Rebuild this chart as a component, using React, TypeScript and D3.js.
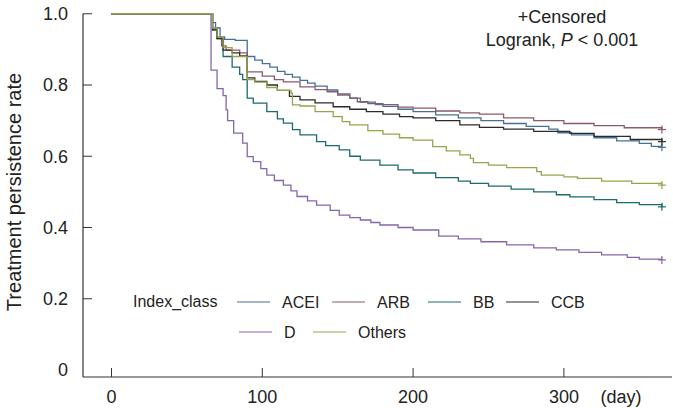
import React from "react";
import * as d3 from "d3";

type Pt = [number, number];

const seriesNames = ["ACEI", "ARB", "BB", "CCB", "D", "Others"];
const seriesColors = ["#44719a", "#8c5a6a", "#1d6a6e", "#2b2b2b", "#8466ad", "#9aa34a"];

const acei: Pt[] = [[0,1],[67,0.975],[69,0.96],[72,0.935],[75,0.928],[82,0.925],[90,0.88],[95,0.87],[100,0.86],[105,0.85],[110,0.838],[115,0.83],[120,0.822],[125,0.813],[130,0.805],[135,0.797],[143,0.786],[150,0.775],[158,0.763],[163,0.753],[170,0.748],[180,0.74],[190,0.732],[200,0.725],[215,0.716],[230,0.708],[245,0.7],[260,0.692],[275,0.684],[290,0.676],[296,0.666],[305,0.66],[320,0.652],[335,0.643],[350,0.636],[358,0.628],[365,0.625]];
const arb: Pt[] = [[0,1],[67,0.96],[70,0.935],[73,0.91],[76,0.898],[85,0.89],[90,0.837],[100,0.825],[108,0.815],[114,0.809],[125,0.795],[135,0.787],[143,0.781],[150,0.772],[158,0.763],[165,0.752],[175,0.745],[190,0.738],[200,0.735],[215,0.727],[231,0.722],[244,0.718],[260,0.708],[280,0.7],[300,0.692],[320,0.686],[340,0.68],[365,0.675]];
const bb: Pt[] = [[0,1],[67,0.955],[70,0.93],[74,0.88],[80,0.85],[85,0.83],[87,0.815],[90,0.763],[94,0.749],[103,0.725],[110,0.705],[114,0.693],[120,0.675],[125,0.66],[136,0.641],[142,0.63],[151,0.618],[158,0.6],[165,0.589],[178,0.575],[190,0.562],[200,0.553],[215,0.54],[230,0.53],[238,0.524],[250,0.516],[265,0.508],[280,0.5],[295,0.492],[304,0.486],[320,0.478],[335,0.47],[350,0.464],[365,0.458]];
const ccb: Pt[] = [[0,1],[67,0.955],[70,0.93],[74,0.898],[80,0.89],[85,0.882],[90,0.82],[95,0.81],[103,0.8],[110,0.785],[118,0.768],[125,0.758],[135,0.75],[147,0.739],[158,0.732],[169,0.725],[180,0.718],[191,0.711],[200,0.708],[215,0.7],[231,0.688],[244,0.681],[260,0.676],[280,0.67],[304,0.664],[320,0.656],[344,0.647],[365,0.641]];
const dd: Pt[] = [[0,1],[66,0.842],[70,0.79],[74,0.77],[76,0.73],[77,0.7],[81,0.665],[87,0.637],[90,0.599],[94,0.585],[99,0.565],[103,0.547],[108,0.532],[114,0.519],[119,0.503],[123,0.487],[130,0.475],[136,0.463],[145,0.448],[151,0.435],[158,0.428],[165,0.421],[172,0.414],[178,0.407],[190,0.4],[200,0.393],[217,0.376],[230,0.368],[245,0.36],[262,0.351],[280,0.343],[295,0.337],[310,0.33],[325,0.323],[342,0.316],[350,0.311],[365,0.309]];
const others: Pt[] = [[0,1],[67,0.96],[70,0.935],[74,0.905],[80,0.88],[90,0.815],[95,0.808],[103,0.793],[110,0.785],[119,0.777],[120,0.744],[125,0.741],[135,0.725],[147,0.711],[153,0.697],[158,0.688],[170,0.672],[180,0.662],[191,0.652],[200,0.645],[213,0.627],[222,0.615],[231,0.604],[238,0.594],[240,0.582],[250,0.575],[262,0.568],[282,0.557],[285,0.547],[300,0.542],[309,0.538],[325,0.53],[345,0.524],[365,0.519]];

const seriesData: Pt[][] = [acei, arb, bb, ccb, dd, others];

const xTicks = [0, 100, 200, 300];
const yTicks = [0, 0.2, 0.4, 0.6, 0.8, 1.0];
const yTickLabels = ["0", "0.2", "0.4", "0.6", "0.8", "1.0"];

const FONT = "'Liberation Sans', Arial, sans-serif";

// legend layout (positions only)
const legendPos: { x: number; y: number }[] = [
  { x: 237, y: 302 },
  { x: 332, y: 302 },
  { x: 428, y: 302 },
  { x: 506, y: 302 },
  { x: 239, y: 332 },
  { x: 313, y: 332 },
];

export default function App() {
  const W = 673, H = 408;
  const x = d3.scaleLinear().domain([0, 100]).range([111.5, 262.3]);
  const y = d3.scaleLinear().domain([0, 1]).range([370, 13.75]);
  const line = d3
    .line<Pt>()
    .x((d) => x(d[0]))
    .y((d) => y(d[1]))
    .curve(d3.curveStepAfter);

  const axisY = 377;
  const axisX = 83;

  return (
    <svg
      width={W}
      height={H}
      style={{ position: "absolute", left: 0, top: 0, background: "#fff" }}
      fontFamily={FONT}
    >
      <rect x={0} y={0} width={W} height={H} fill="#fff" />
      {/* axes */}
      <line x1={axisX} y1={13.75} x2={axisX} y2={axisY} stroke="#333" strokeWidth={1.2} />
      <line x1={axisX} y1={axisY} x2={672} y2={axisY} stroke="#333" strokeWidth={1.2} />
      {yTicks.map((t, i) => (
        <g key={"yt" + i}>
          {t > 0 && <line x1={axisX} x2={axisX + 9} y1={y(t)} y2={y(t)} stroke="#333" strokeWidth={1} />}
          <text x={68} y={y(t)} dy="0.36em" textAnchor="end" fontSize={18} fill="#222">
            {yTickLabels[i]}
          </text>
        </g>
      ))}
      {xTicks.map((t) => (
        <g key={"xt" + t}>
          <line x1={x(t)} x2={x(t)} y1={axisY} y2={axisY - 9} stroke="#333" strokeWidth={1} />
          <text x={x(t)} y={403} textAnchor="middle" fontSize={18} fill="#222">
            {t}
          </text>
        </g>
      ))}
      <text x={621} y={403} textAnchor="middle" fontSize={18} fill="#222">
        (day)
      </text>
      <text
        transform={`translate(21,192) rotate(-90)`}
        textAnchor="middle"
        fontSize={20}
        fill="#222"
      >
        Treatment persistence rate
      </text>

      {/* curves */}
      {seriesData.map((s, i) => (
        <path key={"c" + i} d={line(s) || ""} fill="none" stroke={seriesColors[i]} strokeWidth={1.3} />
      ))}
      {seriesData.map((s, i) => {
        const last = s[s.length - 1];
        const cx = x(last[0]);
        const cy = y(last[1]);
        return (
          <g key={"cm" + i} stroke={seriesColors[i]} strokeWidth={1.2}>
            <line x1={cx - 4} x2={cx + 4} y1={cy} y2={cy} />
            <line x1={cx} x2={cx} y1={cy - 4} y2={cy + 4} />
          </g>
        );
      })}

      {/* annotation */}
      <text x={562} y={23} textAnchor="middle" fontSize={18} fill="#222">
        +Censored
      </text>
      <text x={562} y={46} textAnchor="middle" fontSize={18} fill="#222">
        Logrank, <tspan fontStyle="italic">P</tspan> {"<"} 0.001
      </text>

      {/* legend */}
      <text x={133} y={307} fontSize={16} fill="#222">
        Index_class
      </text>
      {seriesNames.map((n, i) => (
        <g key={"lg" + i}>
          <line
            x1={legendPos[i].x}
            x2={legendPos[i].x + 33}
            y1={legendPos[i].y}
            y2={legendPos[i].y}
            stroke={seriesColors[i]}
            strokeWidth={1.2}
          />
          <text x={legendPos[i].x + 45} y={legendPos[i].y + 6} fontSize={16} fill="#222">
            {n}
          </text>
        </g>
      ))}
    </svg>
  );
}
